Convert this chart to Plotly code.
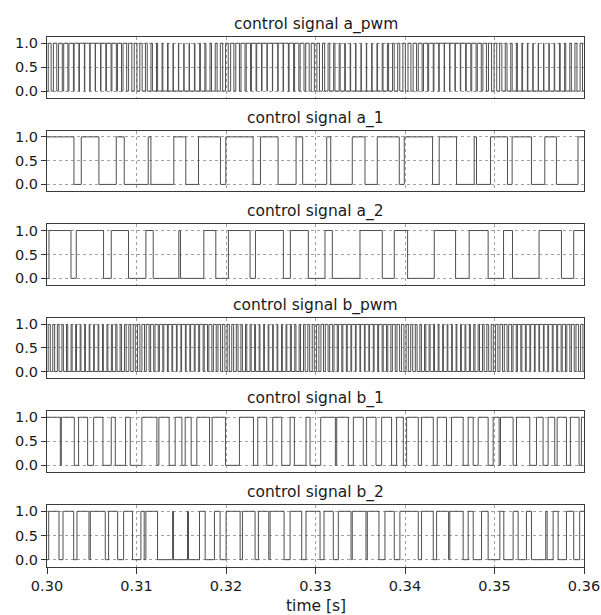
import plotly.graph_objects as go

# ---------------- data (read/estimated from the picture) -------------
T_START, T_END = 0.30, 0.36
titles = ["control signal a_pwm", "control signal a_1", "control signal a_2",
          "control signal b_pwm", "control signal b_1", "control signal b_2"]
x_label = "time [s]"

# PWM signals: carrier period [s] and duty ratio of each carrier period (centre-aligned pulses)
a_pwm_period = 0.0006
a_pwm_duty = [0.54, 0.63, 0.70, 0.78, 0.84, 0.89, 0.92, 0.94, 0.95, 0.94, 0.91, 0.87, 0.82, 0.75,
              0.68, 0.60, 0.51, 0.43, 0.35, 0.27, 0.20, 0.14, 0.10, 0.07, 0.05, 0.05, 0.07, 0.10,
              0.14, 0.20, 0.27, 0.35, 0.43, 0.51,
              0.60, 0.68, 0.75, 0.81, 0.86, 0.90, 0.93, 0.95, 0.95, 0.93, 0.90, 0.85, 0.79, 0.72,
              0.65, 0.57, 0.48, 0.40, 0.32, 0.24, 0.18, 0.12, 0.09, 0.06, 0.05, 0.06, 0.08, 0.11,
              0.16, 0.22, 0.30, 0.38, 0.46,
              0.55, 0.64, 0.72, 0.79, 0.85, 0.89, 0.93, 0.95, 0.95, 0.94, 0.91, 0.86, 0.81, 0.74,
              0.66, 0.58, 0.50, 0.41, 0.33, 0.26, 0.19, 0.13, 0.09, 0.06, 0.05, 0.05, 0.07, 0.10,
              0.15, 0.21, 0.29, 0.37, 0.45]

b_pwm_period = 0.0005
b_pwm_duty = [0.47, 0.42, 0.37, 0.32, 0.27, 0.23, 0.20, 0.18, 0.16, 0.15, 0.15, 0.16, 0.18, 0.20,
              0.23, 0.27, 0.32, 0.37, 0.42, 0.47, 0.53, 0.58, 0.63, 0.68, 0.73, 0.77, 0.80, 0.82,
              0.84, 0.85, 0.85, 0.84, 0.82, 0.80, 0.77, 0.73, 0.68, 0.63, 0.58, 0.53,
              0.48, 0.43, 0.38, 0.33, 0.28, 0.24, 0.21, 0.18, 0.16, 0.15, 0.15, 0.16, 0.17, 0.19,
              0.22, 0.26, 0.31, 0.36, 0.41, 0.46, 0.52, 0.57, 0.62, 0.67, 0.72, 0.76, 0.79, 0.82,
              0.84, 0.85, 0.85, 0.84, 0.83, 0.80, 0.78, 0.74, 0.69, 0.64, 0.59, 0.54,
              0.49, 0.44, 0.39, 0.34, 0.29, 0.24, 0.21, 0.18, 0.16, 0.15, 0.15, 0.16, 0.18, 0.20,
              0.23, 0.27, 0.31, 0.36, 0.41, 0.46, 0.52, 0.57, 0.62, 0.67, 0.72, 0.76, 0.79, 0.82,
              0.84, 0.85, 0.85, 0.84, 0.82, 0.80, 0.77, 0.73, 0.68, 0.63, 0.58, 0.53]

# gate signals: level at t = 0.30 and the switching instants [s]
a_1_start = 1
a_1_edges = [0.30301, 0.30383, 0.30580, 0.30774, 0.30863, 0.31131, 0.31161, 0.31417,
             0.31551, 0.31693, 0.31938, 0.31998, 0.32303, 0.32385, 0.32582, 0.32783,
             0.32857, 0.33125, 0.33170, 0.33411, 0.33553, 0.33690, 0.33936, 0.33992,
             0.34308, 0.34382, 0.34576, 0.34773, 0.34799, 0.34955, 0.35145, 0.35197,
             0.35413, 0.35562, 0.35692, 0.35933]

a_2_start = 0
a_2_edges = [0.30022, 0.30268, 0.30327, 0.30632, 0.30718, 0.30911, 0.31105, 0.31187,
             0.31473, 0.31492, 0.31752, 0.31886, 0.32027, 0.32269, 0.32329, 0.32641,
             0.32719, 0.32920, 0.33106, 0.33188, 0.33497, 0.33746, 0.33880, 0.34029,
             0.34327, 0.34565, 0.34717, 0.34929, 0.35101, 0.35201, 0.35498, 0.35748,
             0.35885]

b_1_start = 1
b_1_edges = [0.30149, 0.30160, 0.30305, 0.30353, 0.30454, 0.30521, 0.30625, 0.30718,
             0.30763, 0.30878, 0.30930, 0.31060, 0.31228, 0.31250, 0.31365, 0.31432,
             0.31507, 0.31544, 0.31611, 0.31674, 0.31816, 0.31845, 0.31994, 0.32150,
             0.32307, 0.32355, 0.32455, 0.32522, 0.32623, 0.32716, 0.32764, 0.32894,
             0.32939, 0.33058, 0.33222, 0.33237, 0.33367, 0.33423, 0.33534, 0.33571,
             0.33676, 0.33739, 0.33850, 0.33906, 0.33981, 0.34018, 0.34148, 0.34185,
             0.34316, 0.34360, 0.34464, 0.34520, 0.34650, 0.34706, 0.34762, 0.34818,
             0.34929, 0.34985, 0.35052, 0.35067, 0.35208, 0.35246, 0.35394, 0.35469,
             0.35543, 0.35599, 0.35673, 0.35700, 0.35804, 0.35848, 0.35945, 0.35971]

b_2_start = 0
b_2_edges = [0.30019, 0.30134, 0.30179, 0.30298, 0.30335, 0.30469, 0.30484, 0.30651,
             0.30688, 0.30789, 0.30856, 0.30956, 0.31049, 0.31086, 0.31105, 0.31235,
             0.31403, 0.31414, 0.31570, 0.31581, 0.31704, 0.31767, 0.31871, 0.31934,
             0.32001, 0.32158, 0.32184, 0.32325, 0.32362, 0.32478, 0.32493, 0.32649,
             0.32716, 0.32846, 0.32894, 0.33051, 0.33095, 0.33199, 0.33255, 0.33397,
             0.33411, 0.33564, 0.33579, 0.33709, 0.33776, 0.33880, 0.33943, 0.34148,
             0.34185, 0.34316, 0.34353, 0.34487, 0.34501, 0.34650, 0.34706, 0.34762,
             0.34855, 0.34929, 0.35060, 0.35104, 0.35208, 0.35264, 0.35357, 0.35413,
             0.35573, 0.35588, 0.35655, 0.35711, 0.35804, 0.35885, 0.35952]

x_ticks = [0.30, 0.31, 0.32, 0.33, 0.34, 0.35, 0.36]
x_tick_text = ["0.30", "0.31", "0.32", "0.33", "0.34", "0.35", "0.36"]
y_ticks = [0.0, 0.5, 1.0]
y_tick_text = ["0.0", "0.5", "1.0"]


def pwm_edges(period, duty):
    edges = []
    for k, d in enumerate(duty):
        c = T_START + (k + 0.5) * period
        edges += [c - d * period / 2, c + d * period / 2]
    return [e for e in edges if T_START < e < T_END]


signals = [(0, pwm_edges(a_pwm_period, a_pwm_duty)), (a_1_start, a_1_edges), (a_2_start, a_2_edges),
           (0, pwm_edges(b_pwm_period, b_pwm_duty)), (b_1_start, b_1_edges), (b_2_start, b_2_edges)]


def step_series(start, edges):
    xs = [T_START] + list(edges) + [T_END]
    ys = [start]
    lvl = start
    for _ in edges:
        lvl = 1 - lvl
        ys.append(lvl)
    ys.append(lvl)
    return xs, ys


# ---------------- figure -------------
W, H = 601, 615
panel_px = [(37, 98), (130.7, 191.3), (224.3, 285.3), (318.3, 378.3), (411, 472.3), (505, 566.7)]
FONT = "DejaVu Sans"
TICK_SIZE = 14.5
TITLE_SIZE = 15.5
TXT = "#1a1a1a"

fig = go.Figure()
layout = dict(
    width=W, height=H,
    margin=dict(l=47, r=W - 584, t=0, b=0),
    paper_bgcolor="white", plot_bgcolor="white",
    showlegend=False,
    font=dict(family=FONT, size=TICK_SIZE, color=TXT),
    annotations=[],
)

for i, ((start, edges), title, (ptop, pbot)) in enumerate(zip(signals, titles, panel_px)):
    n = i + 1
    xs, ys = step_series(start, edges)
    xa = "x" if n == 1 else f"x{n}"
    ya = "y" if n == 1 else f"y{n}"
    fig.add_trace(go.Scatter(x=xs, y=ys, mode="lines", line_shape="hv",
                             line=dict(color="#505050", width=1),
                             xaxis=xa, yaxis=ya, hoverinfo="skip"))
    dom = [1 - pbot / H, 1 - ptop / H]
    last = (n == 6)
    layout["xaxis" if n == 1 else f"xaxis{n}"] = dict(
        domain=[0, 1], anchor=ya, range=[T_START, T_END],
        tickvals=x_ticks, ticktext=x_tick_text, showticklabels=last,
        ticks="outside" if last else "", ticklen=6, tickcolor="#333",
        ticklabeloverflow="allow",
        showgrid=True, gridcolor="#a0a0a0", griddash="dot", gridwidth=1,
        showline=True, linecolor="#3a3a3a", linewidth=1, mirror=True,
        zeroline=False, automargin=False,
        tickfont=dict(family=FONT, size=TICK_SIZE, color=TXT),
    )
    layout["yaxis" if n == 1 else f"yaxis{n}"] = dict(
        domain=dom, anchor=xa, range=[-0.145, 1.13],
        tickvals=y_ticks, ticktext=y_tick_text,
        ticks="outside", ticklen=5, tickcolor="#333",
        showgrid=True, gridcolor="#a0a0a0", griddash="dot", gridwidth=1,
        showline=True, linecolor="#3a3a3a", linewidth=1, mirror=True,
        zeroline=False, automargin=False,
        tickfont=dict(family=FONT, size=TICK_SIZE, color=TXT),
    )
    layout["annotations"].append(dict(
        text=title, xref="paper", yref="paper", x=0.5, y=dom[1],
        xanchor="center", yanchor="bottom", yshift=1, showarrow=False,
        font=dict(family=FONT, size=TITLE_SIZE, color=TXT),
    ))
    if last:
        layout["annotations"].append(dict(
            text=x_label, xref="paper", yref="paper", x=0.5, y=dom[0],
            xanchor="center", yanchor="middle", yshift=-39, showarrow=False,
            font=dict(family=FONT, size=TITLE_SIZE, color=TXT),
        ))

fig.update_layout(**layout)
# remove the default page margin so the 601x615 figure fills the window exactly
fig.write_html("out.html",
               config={"displayModeBar": False},
               post_script="document.body.style.margin='0';document.body.style.overflow='hidden';")
